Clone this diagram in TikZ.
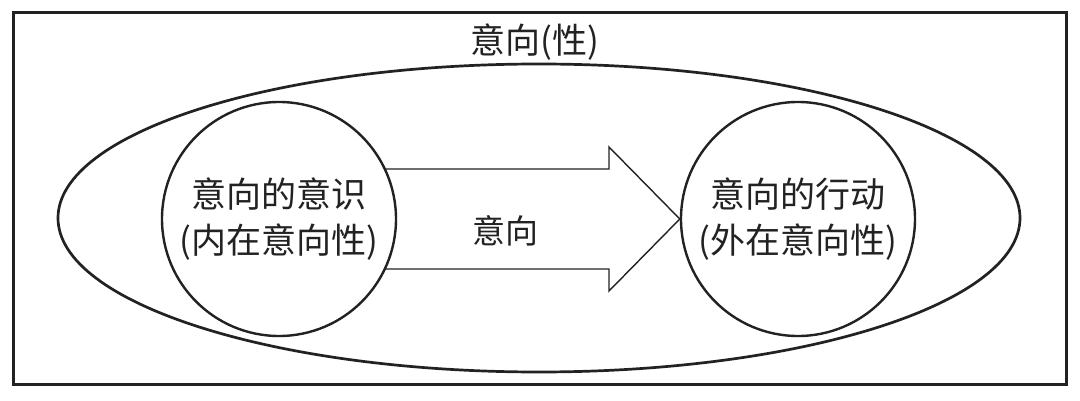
\documentclass[tikz,border=0pt]{standalone}
\usepackage{fontspec}
\newfontfamily\cjk{Noto Sans CJK SC}
\usetikzlibrary{shapes.geometric}
\definecolor{ink}{HTML}{222222}
\begin{document}
\begin{tikzpicture}[x=1pt,y=-1pt,
  frame/.style={draw=ink,line width=3pt},
  bigoval/.style={ellipse,draw=ink,line width=2.7pt,minimum width=962pt,minimum height=308pt,inner sep=0pt},
  ball/.style={circle,draw=ink,line width=2.4pt,minimum size=234pt,inner sep=0pt,align=center,
    font=\cjk\fontsize{35pt}{46pt}\selectfont,text=ink},
  label/.style={font=\cjk\fontsize{35pt}{42pt}\selectfont,text=ink,inner sep=0pt},
  arrowline/.style={draw=ink,line width=1.4pt,line join=miter}]
\useasboundingbox (0,0) rectangle (1080,401);
\fill[white] (0,0) rectangle (1080,401);
\draw[frame] (13,13) rectangle (1066,384);
\node[label] (title) at (535,42) {意向(性)};
\node[bigoval] (oval) at (539,218) {};
\node[ball] (lc) at (279,219) {意向的意识\\(内在意向性)};
\node[ball] (rc) at (798,219) {意向的行动\\(外在意向性)};
\coordinate (h) at (609,219);
\coordinate (ht) at (609,147);
\coordinate (hb) at (609,291);
\draw[arrowline] (lc.25) -- (lc.25 -| h) -- (ht) -- (rc.west) -- (hb) -- (lc.-25 -| h) -- (lc.-25);
\node[label,font=\cjk\fontsize{33pt}{40pt}\selectfont] (mid) at (505,231) {意向};
\end{tikzpicture}
\end{document}
